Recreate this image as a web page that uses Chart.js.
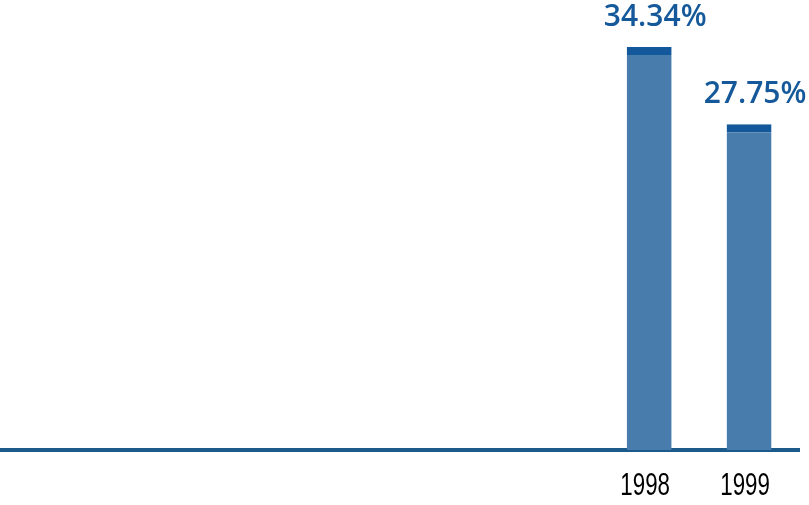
<!DOCTYPE html>
<html>
<head>
<meta charset="utf-8">
<script src="https://cdn.jsdelivr.net/npm/chart.js@4.4.1/dist/chart.umd.min.js"></script>
<style>
  html, body { margin:0; padding:0; background:#fff; }
  #wrap { width:809px; height:505px; position:relative; }
</style>
</head>
<body>
<div id="wrap"><canvas id="barChart"></canvas></div>
<script>
// Years shown along the axis (earlier slots are empty)
const years = ['', '', '', '', '', '', '1998', '1999'];
const rates = [null, null, null, null, null, null, 34.34, 27.75];
const rateLabels = ['', '', '', '', '', '', '34.34%', '27.75%'];

// Value labels above bars + condensed year labels under the axis
const labelsPlugin = {
  id: 'labelsPlugin',
  afterDatasetsDraw(chart){
    const ctx = chart.ctx;
    const meta = chart.getDatasetMeta(0);
    const xScale = chart.scales.x;
    ctx.save();
    ctx.fillStyle = '#15599a';
    ctx.font = '600 30px "Open Sans"';
    ctx.textAlign = 'center';
    ctx.textBaseline = 'alphabetic';
    meta.data.forEach((bar, i) => {
      if(rates[i] == null) return;
      ctx.fillText(rateLabels[i], bar.x + 6, bar.y - 21);
    });
    ctx.restore();

    // year labels, squeezed horizontally to look condensed
    ctx.save();
    ctx.fillStyle = '#000';
    ctx.font = '31px "Liberation Sans"';
    ctx.textAlign = 'center';
    ctx.textBaseline = 'alphabetic';
    years.forEach((y, i) => {
      if(!y) return;
      const x = xScale.getPixelForValue(i) - 4;
      ctx.save();
      ctx.translate(x, 495);
      ctx.scale(0.72, 1);
      ctx.fillText(y, 0, 0);
      ctx.restore();
    });
    ctx.restore();
  }
};

const ctx = document.getElementById('barChart').getContext('2d');
new Chart(ctx, {
  type: 'bar',
  data: {
    labels: years,
    datasets: [{
      data: rates,
      backgroundColor: '#477cad',
      borderColor: '#13589a',
      borderWidth: {top: 8, left: 0, right: 0, bottom: 0},
      borderSkipped: false,
      barPercentage: 0.9,
      categoryPercentage: 0.5
    }]
  },
  options: {
    responsive: true,
    maintainAspectRatio: false,
    animation: false,
    layout: { padding: { top: 4, right: 10, left: 0, bottom: 47 } },
    plugins: { legend: { display: false }, tooltip: { enabled: false } },
    scales: {
      x: {
        grid: { display: false },
        border: { display: true, color: '#1b5a8b', width: 4 },
        ticks: { display: false }
      },
      y: {
        display: false,
        min: 0,
        max: 38
      }
    }
  },
  plugins: [labelsPlugin]
});
</script>
</body>
</html>
